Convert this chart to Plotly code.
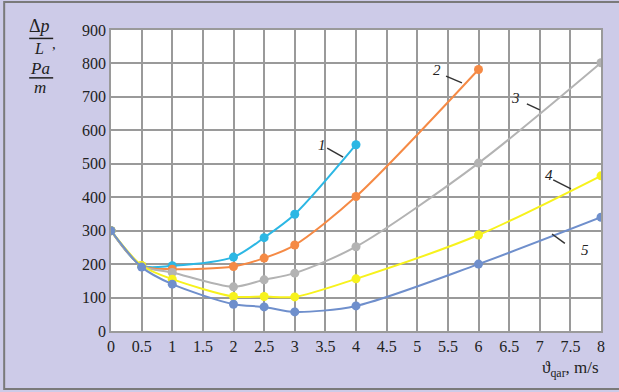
import plotly.graph_objects as go

# Gas velocity (m/s) and specific pressure drop (Pa/m) for curves 1-5
x1 = [0, 0.5, 1, 2, 2.5, 3, 4]
y1 = [300, 195, 195, 221, 279, 349, 557]

x2 = [0, 0.5, 1, 2, 2.5, 3, 4, 6]
y2 = [300, 195, 185, 193, 218, 257, 402, 782]

x3 = [0, 0.5, 1, 2, 2.5, 3, 4, 6, 8]
y3 = [300, 195, 175, 132, 153, 173, 252, 502, 802]

x4 = [0, 0.5, 1, 2, 2.5, 3, 4, 6, 8]
y4 = [300, 196, 155, 103, 103, 102, 156, 287, 464]

x5 = [0, 0.5, 1, 2, 2.5, 3, 4, 6, 8]
y5 = [300, 191, 140, 80, 72, 57, 75, 200, 340]

x_ticks = [0, 0.5, 1, 1.5, 2, 2.5, 3, 3.5, 4, 4.5, 5, 5.5, 6, 6.5, 7, 7.5, 8]
x_tick_text = ["0", "0.5", "1", "1.5", "2", "2.5", "3", "3.5", "4", "4.5",
               "5", "5.5", "6", "6.5", "7", "7.5", "8"]
y_ticks = [0, 100, 200, 300, 400, 500, 600, 700, 800, 900]

curve_names = ["1", "2", "3", "4", "5"]
colors = ["#2cb7e4", "#f58a45", "#b3b3b3", "#f7f21c", "#6f8fcc"]
series = [(x1, y1), (x2, y2), (x3, y3), (x4, y4), (x5, y5)]

# curve label positions and leader lines (data units)
label_pos = [(3.44, 556), (5.32, 780), (6.6, 697), (7.15, 466), (7.74, 243)]
leaders = [((3.53, 547), (3.79, 520)),
           ((5.47, 762), (5.73, 742)),
           ((6.79, 679), (7.0, 661)),
           ((7.22, 452), (7.51, 425)),
           ((7.2, 290), (7.41, 262))]

fig = go.Figure()
for name, (xs, ys), c in zip(curve_names, series, colors):
    fig.add_trace(go.Scatter(
        x=xs, y=ys, name=name, mode="lines+markers",
        line=dict(color=c, width=2, shape="spline", smoothing=0.8),
        marker=dict(color=c, size=9),
        showlegend=False,
    ))

serif = "Liberation Serif"
ink = "#222"

for name, (lx, ly) in zip(curve_names, label_pos):
    fig.add_annotation(x=lx, y=ly, text=f"<i>{name}</i>", showarrow=False,
                       font=dict(family=serif, size=15, color=ink))
for (a, b) in leaders:
    fig.add_shape(type="line", x0=a[0], y0=a[1], x1=b[0], y1=b[1],
                  line=dict(color="#333", width=1.5))

# outer frame
fig.add_shape(type="rect", xref="paper", yref="paper",
              x0=-0.218, x1=1.06, y0=-0.193, y1=1.093,
              line=dict(color="#7a7a7a", width=2), layer="below")

# y-axis title as a stacked fraction: (Δp / L), (Pa / m)
def title_text(x, y, txt, size=18):
    fig.add_annotation(xref="paper", yref="paper", x=x, y=y, text=txt,
                       showarrow=False, xanchor="center", yanchor="middle",
                       font=dict(family=serif, size=size, color=ink))

title_text(-0.145, 1.012, "Δ<i>p</i>")
fig.add_shape(type="line", xref="paper", yref="paper",
              x0=-0.167, x1=-0.118, y0=0.972, y1=0.972,
              line=dict(color=ink, width=1.5))
title_text(-0.147, 0.940, "<i>L</i>", size=16)
title_text(-0.116, 0.952, ",", size=15)
title_text(-0.145, 0.872, "<i>Pa</i>", size=17)
fig.add_shape(type="line", xref="paper", yref="paper",
              x0=-0.167, x1=-0.118, y0=0.841, y1=0.841,
              line=dict(color=ink, width=1.5))
title_text(-0.145, 0.808, "<i>m</i>", size=17)

# x-axis title
fig.add_annotation(xref="paper", yref="paper", x=1.0, y=-0.125,
                   text="ϑ<sub>qar</sub>, m/s", showarrow=False, xanchor="right",
                   yanchor="middle", font=dict(family=serif, size=17, color=ink))

axis_style = dict(showgrid=True, gridcolor="#9a9a9a", gridwidth=1.5,
                  showline=True, linecolor="#9a9a9a", linewidth=1.5, mirror=True,
                  zeroline=False, ticks="", ticklen=0,
                  tickfont=dict(family=serif, size=16, color=ink))
fig.update_xaxes(range=[0, 8], tickvals=x_ticks, ticktext=x_tick_text, **axis_style)
fig.update_yaxes(range=[0, 900], tickvals=y_ticks, **axis_style)

fig.update_layout(
    width=619, height=392,
    margin=dict(l=111, r=18, t=30, b=61),
    paper_bgcolor="#cdcbe8",
    plot_bgcolor="white",
)

fig.write_html("out.html")
